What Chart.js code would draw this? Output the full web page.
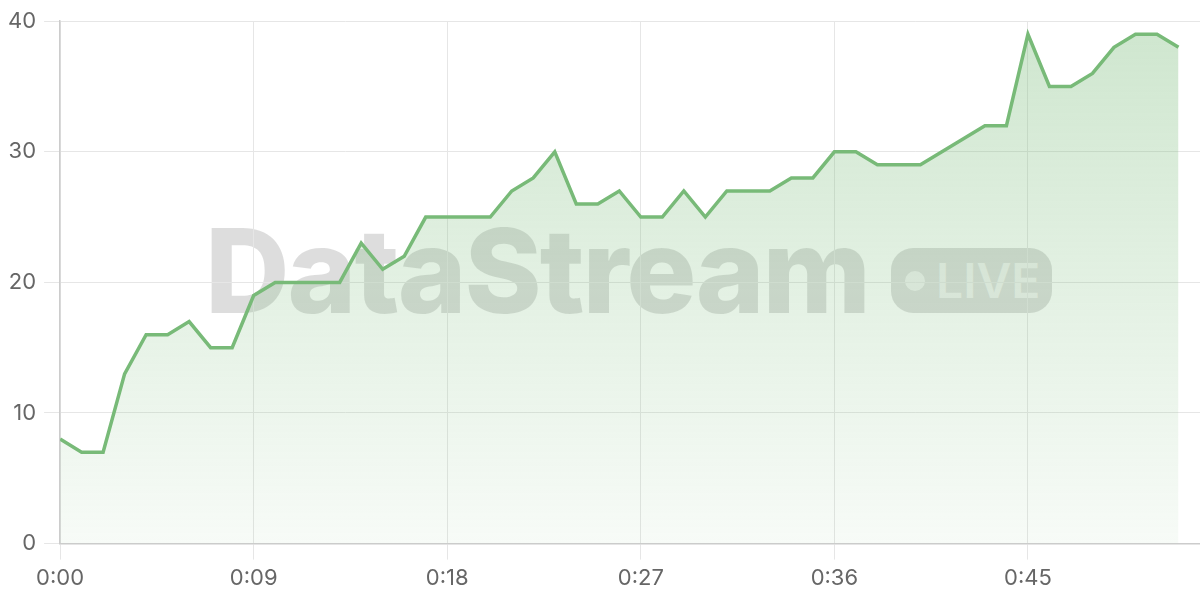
<!DOCTYPE html>
<html>
<head>
<meta charset="utf-8">
<script src="https://cdn.jsdelivr.net/npm/chart.js@4.4.0/dist/chart.umd.min.js"></script>
<style>
  html, body { margin: 0; padding: 0; background: #fff; }
  #wrap { position: relative; width: 1200px; height: 600px; }
  #chart { position: absolute; left: 0; top: 0; z-index: 2; }
  .wm { position: absolute; z-index: 1; font-family: Inter, sans-serif; white-space: nowrap; }
  #wmText { left: 205px; top: 212px; font-size: 117px; line-height: 1; font-weight: 800; color: rgba(0,0,0,0.135); letter-spacing: -2px; }
  #wmPill { left: 891px; top: 248px; width: 161px; height: 65px; border-radius: 22px; background: rgba(0,0,0,0.135); }
  #wmDot { position: absolute; left: 14px; top: 23px; width: 20px; height: 20px; border-radius: 50%; background: rgba(255,255,255,0.6); }
  #wmLive { position: absolute; left: 45px; top: 9px; font-size: 48px; line-height: 1; font-weight: 600; color: rgba(255,255,255,0.6); }
</style>
</head>
<body>
<div id="wrap">
  <div class="wm" id="wmText">DataStream</div>
  <div class="wm" id="wmPill"><div id="wmDot"></div><div id="wmLive">LIVE</div></div>
  <canvas id="chart" width="1200" height="600"></canvas>
</div>
<script>
const seconds = [0,1,2,3,4,5,6,7,8,9,10,11,12,13,14,15,16,17,18,19,20,21,22,23,24,25,26,27,28,29,30,31,32,33,34,35,36,37,38,39,40,41,42,43,44,45,46,47,48,49,50,51,52];
const values = [8,7,7,13,16,16,17,15,15,19,20,20,20,20,23,21,22,25,25,25,25,27,28,30,26,26,27,25,25,27,25,27,27,27,28,28,30,30,29,29,29,30,31,32,32,39,35,35,36,38,39,39,38];
const xTickValues = [0, 9, 18, 27, 36, 45];
const xTickLabels = ['0:00', '0:09', '0:18', '0:27', '0:36', '0:45'];
const yTickLabels = ['0', '10', '20', '30', '40'];

const points = seconds.map((s, i) => ({ x: s, y: values[i] }));

Chart.defaults.font.family = 'Inter, sans-serif';
Chart.defaults.font.size = 22;
Chart.defaults.color = '#666';

const ctx = document.getElementById('chart').getContext('2d');
new Chart(ctx, {
  type: 'line',
  data: {
    datasets: [{
      data: points,
      borderColor: 'rgb(120,186,120)',
      borderWidth: 3.5,
      pointRadius: 0,
      tension: 0,
      fill: 'origin',
      backgroundColor: (c) => {
        const area = c.chart.chartArea;
        if (!area) return 'rgba(120,186,120,0.2)';
        const g = c.chart.ctx.createLinearGradient(0, area.top, 0, area.bottom);
        g.addColorStop(0, 'rgba(120,186,120,0.36)');
        g.addColorStop(1, 'rgba(120,186,120,0.06)');
        return g;
      }
    }]
  },
  options: {
    responsive: false,
    animation: false,
    devicePixelRatio: 1,
    layout: { padding: { top: 20, right: 0, bottom: 2, left: 0 } },
    plugins: { legend: { display: false }, tooltip: { enabled: false } },
    scales: {
      x: {
        type: 'linear',
        min: 0,
        max: 53,
        afterBuildTicks: (axis) => { axis.ticks = xTickValues.map(v => ({ value: v })); },
        ticks: {
          padding: 6,
          maxRotation: 0,
          callback: (v) => { const i = xTickValues.indexOf(v); return i >= 0 ? xTickLabels[i] : ''; }
        },
        grid: { color: '#e6e6e6', lineWidth: 1, tickLength: 16 },
        border: { color: '#cccccc', width: 1.5 }
      },
      y: {
        min: 0,
        max: 40,
        ticks: {
          stepSize: 10,
          padding: 8,
          callback: (v) => yTickLabels[v / 10]
        },
        grid: { color: '#e6e6e6', lineWidth: 1, tickLength: 16 },
        border: { color: '#cccccc', width: 1.5 }
      }
    }
  }
});
</script>
</body>
</html>
